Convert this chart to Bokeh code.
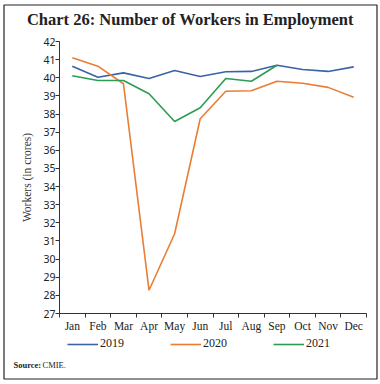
from bokeh.plotting import figure
from bokeh.models import FixedTicker, Legend, LegendItem, Range1d, Label, BoxAnnotation
from bokeh.embed import file_html
from bokeh.resources import INLINE
import math

months = ["Jan", "Feb", "Mar", "Apr", "May", "Jun", "Jul", "Aug", "Sep", "Oct", "Nov", "Dec"]
workers_2019 = [40.64, 40.03, 40.27, 39.96, 40.40, 40.07, 40.33, 40.35, 40.69, 40.46, 40.35, 40.60]
workers_2020 = [41.10, 40.64, 39.67, 28.28, 31.40, 37.74, 39.26, 39.28, 39.81, 39.70, 39.47, 38.93]
workers_2021 = [40.11, 39.85, 39.85, 39.12, 37.59, 38.35, 39.96, 39.81, 40.69]
y_ticks = list(range(27, 43))
y_min, y_max = 27, 42

colors = {"2019": "#3C62A6", "2020": "#EA7D35", "2021": "#2A9D52"}

xs = list(range(1, 13))

W, H = 380, 383
# plot area (axes box) placement inside the canvas, in pixels
left_px, right_px, top_px, bottom_px = 59, 366, 41, 313
xpx = (right_px - left_px) / 12.0
ypx = (bottom_px - top_px) / float(y_max - y_min)

p = figure(width=W, height=H, output_backend="svg", toolbar_location=None,
           x_axis_location="above", y_axis_location="right",
           x_range=Range1d(0.5 - left_px / xpx, 12.5 + (W - right_px) / xpx),
           y_range=Range1d(y_min - (H - bottom_px) / ypx, y_max + top_px / ypx),
           min_border_left=0, min_border_right=0, min_border_top=0, min_border_bottom=0)
p.outline_line_color = None
p.xgrid.visible = False
p.ygrid.visible = False
p.border_fill_color = "white"
p.background_fill_color = "white"

# outer frame of the chart box
p.add_layout(BoxAnnotation(left=3.5, right=376.5, top=H - 4.5, bottom=H - 378.5,
                           left_units="screen", right_units="screen",
                           top_units="screen", bottom_units="screen",
                           fill_alpha=0, line_color="#222", line_width=1.2,
                           line_alpha=1))

# x axis, drawn at y = 27
xa = p.xaxis[0]
xa.fixed_location = y_min
xa.bounds = (0.5, 12.5)
xa.ticker = FixedTicker(ticks=xs, minor_ticks=[i + 0.5 for i in range(0, 13)])
xa.major_label_overrides = {i + 1: m for i, m in enumerate(months)}
xa.major_tick_out = 0
xa.major_tick_in = 0
xa.minor_tick_out = 0
xa.minor_tick_in = 4
xa.major_label_standoff = -18
xa.major_label_text_font = "Liberation Serif"
xa.major_label_text_font_size = "11.5px"
xa.major_label_text_color = "#222"
xa.axis_line_color = "#333"
xa.minor_tick_line_color = "#333"

# y axis, drawn at x = 0.5
ya = p.yaxis[0]
ya.fixed_location = 0.5
ya.bounds = (y_min, y_max)
ya.ticker = FixedTicker(ticks=y_ticks, minor_ticks=[])
ya.major_tick_out = 0
ya.major_tick_in = 4
ya.major_label_standoff = -16
ya.major_label_text_font = "Noto Sans"
ya.major_label_text_font_size = "10.5px"
ya.major_label_text_color = "#222"
ya.axis_line_color = "#333"
ya.major_tick_line_color = "#333"

r19 = p.line(xs, workers_2019, line_color=colors["2019"], line_width=1.6)
r20 = p.line(xs, workers_2020, line_color=colors["2020"], line_width=1.6)
r21 = p.line(xs[:len(workers_2021)], workers_2021, line_color=colors["2021"], line_width=1.6)

legend = Legend(items=[LegendItem(label="2019", renderers=[r19]),
                       LegendItem(label="2020", renderers=[r20]),
                       LegendItem(label="2021", renderers=[r21])],
                orientation="horizontal", location=(67, H - 351),
                glyph_width=31, glyph_height=12, label_height=12, label_standoff=2,
                spacing=46, padding=0, margin=0,
                border_line_color=None, background_fill_alpha=0,
                label_text_font="Liberation Serif", label_text_font_size="12px",
                label_text_color="#222")
p.add_layout(legend, "center")

p.add_layout(Label(x=190, y=H - 19, x_units="screen", y_units="screen",
                   text="Chart 26: Number of Workers in Employment",
                   text_font="Liberation Serif", text_font_style="bold",
                   text_font_size="16.5px", text_align="center", text_baseline="middle",
                   text_color="#222"))

p.add_layout(Label(x=26, y=H - 177, x_units="screen", y_units="screen",
                   text="Workers (in crores)", angle=math.pi / 2,
                   text_font="Liberation Serif", text_font_size="11.5px",
                   text_align="center", text_baseline="middle", text_color="#333"))

p.add_layout(Label(x=13, y=H - 364, x_units="screen", y_units="screen",
                   text="Source:", text_font="Liberation Serif", text_font_style="bold",
                   text_font_size="8.5px", text_align="left", text_baseline="middle",
                   text_color="#222"))
p.add_layout(Label(x=42, y=H - 364, x_units="screen", y_units="screen",
                   text="CMIE.", text_font="Liberation Serif",
                   text_font_size="8.5px", text_align="left", text_baseline="middle",
                   text_color="#222"))

open("out.html", "w").write(file_html(p, INLINE))
